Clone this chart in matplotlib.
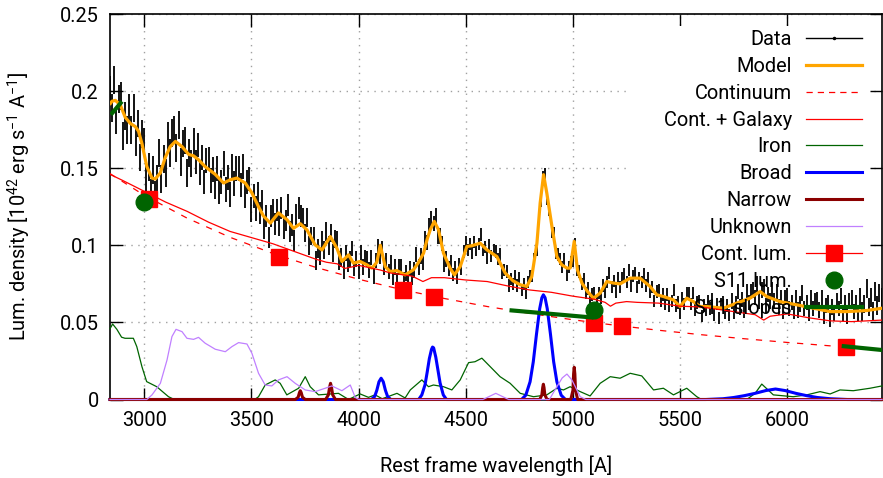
import numpy as np
import matplotlib
matplotlib.use('Agg')
import matplotlib.pyplot as plt
from matplotlib.lines import Line2D
from matplotlib.patches import Rectangle

plt.rcParams['font.family'] = ['Roboto', 'DejaVu Sans']
plt.rcParams['mathtext.default'] = 'regular'
plt.rcParams['font.size'] = 14.4

# ---------------- data ----------------
data_wave = np.arange(2840, 6441, 10)
data_flux = [
    .201, .189, .207, .181, .195, .197, .171, .184, .175, .189,   # 2840
    .175, .189, .167, .179, .157, .172, .167, .144, .151, .134,   # 2940
    .149, .133, .143, .160, .143, .156, .147, .171, .160, .173,   # 3040
    .175, .163, .178, .154, .166, .168, .147, .160, .153, .167,   # 3140
    .154, .165, .147, .157, .141, .155, .156, .142, .149, .138,   # 3240
    .150, .135, .141, .153, .136, .144, .133, .151, .140, .150,   # 3340
    .150, .139, .151, .132, .141, .143, .123, .132, .124, .133,   # 3440
    .121, .129, .111, .119, .105, .119, .123, .114, .123, .113,   # 3540
    .124, .111, .116, .126, .109, .113, .103, .120, .124, .119,   # 3640
    .118, .108, .118, .100, .106, .106, .090, .098, .093, .103,   # 3740
    .097, .109, .100, .108, .095, .104, .103, .090, .092, .084,   # 3840
    .095, .088, .091, .098, .085, .091, .083, .095, .086, .092,   # 3940
    .091, .084, .092, .080, .090, .099, .093, .098, .086, .090,   # 4040
    .083, .089, .079, .086, .077, .086, .086, .078, .082, .077,   # 4140
    .085, .079, .084, .094, .086, .093, .089, .104, .102, .113,   # 4240
    .117, .114, .119, .106, .106, .101, .088, .091, .085, .089,   # 4340
    .081, .086, .079, .088, .085, .096, .102, .097, .101, .095,   # 4440
    .102, .097, .101, .107, .097, .099, .092, .100, .093, .097,   # 4540
    .096, .091, .094, .082, .084, .083, .074, .078, .075, .080,   # 4640
    .074, .079, .071, .075, .069, .076, .080, .080, .091, .097,   # 4740
    .117, .129, .144, .146, .130, .123, .109, .108, .095, .094,   # 4840
    .091, .086, .091, .081, .086, .089, .090, .101, .084, .083,   # 4940
    .075, .078, .069, .072, .064, .068, .069, .064, .069, .066,   # 5040
    .074, .070, .076, .082, .073, .077, .070, .079, .073, .079,   # 5140
    .081, .076, .084, .074, .080, .082, .073, .079, .076, .081,   # 5240
    .074, .079, .070, .073, .064, .070, .071, .064, .068, .062,   # 5340
    .068, .061, .064, .071, .061, .063, .056, .066, .062, .069,   # 5440
    .069, .062, .069, .058, .063, .064, .054, .061, .058, .064,   # 5540
    .059, .065, .055, .062, .053, .062, .063, .056, .061, .055,   # 5640
    .064, .057, .062, .070, .060, .065, .058, .070, .063, .070,   # 5740
    .071, .066, .075, .064, .071, .073, .061, .068, .064, .071,   # 5840
    .064, .070, .060, .066, .057, .066, .067, .059, .063, .057,   # 5940
    .066, .058, .062, .069, .059, .063, .056, .066, .059, .064,   # 6040
    .065, .058, .066, .054, .061, .063, .052, .060, .056, .064,   # 6140
    .059, .067, .056, .063, .054, .064, .066, .057, .063, .056,   # 6240
    .066, .057, .062, .072, .060, .066, .057, .070, .061, .069, .066]  # 6340
# error half-length for each 100 A block of the data
data_err_blocks = [.009, .009, .009, .009, .008, .008, .008, .007, .007, .006,
                   .006, .005, .005, .005, .005, .005, .004, .004, .004, .004,
                   .004, .004, .004, .004, .004, .004, .004, .004, .004, .005,
                   .005, .005, .005, .005, .005, .006]
data_err_counts = [10] * 35 + [11]

model_wave = [2842, 2849, 2865, 2888, 2911, 2935, 2958, 2973, 2989, 3012,
              3036, 3051, 3075, 3098, 3121, 3145, 3176, 3207, 3230, 3253,
              3284, 3331, 3370, 3401, 3432, 3471, 3502, 3533, 3556, 3588,
              3626, 3666, 3696, 3728, 3759, 3797, 3829, 3868, 3899, 3922,
              3953, 3976, 4007, 4039, 4062, 4085, 4101, 4124, 4147, 4179,
              4217, 4256, 4280, 4303, 4320, 4334, 4353, 4373, 4396, 4427,
              4447, 4474, 4505, 4528, 4567, 4598, 4645, 4684, 4720, 4754,
              4785, 4808, 4832, 4847, 4863, 4878, 4902, 4925, 4948, 4972,
              4987, 5006, 5021, 5042, 5068, 5096, 5127, 5158, 5189, 5220,
              5267, 5313, 5360, 5391, 5422, 5469, 5500, 5531, 5562, 5593,
              5624, 5702, 5764, 5826, 5873, 5904, 5966, 6044, 6122, 6200,
              6277, 6371, 6442]
model_flux = [.192, .1934, .194, .191, .183, .179, .177, .174, .166, .151,
              .1436, .143, .147, .157, .164, .1674, .164, .159, .158, .1555,
              .151, .146, .1404, .1425, .1436, .1404, .134, .125, .119, .1144,
              .121, .1166, .111, .114, .110, .1003, .097, .1057, .098, .0895,
              .0938, .0884, .0895, .0873, .0852, .089, .100, .0862, .083, .0836,
              .0808, .0841, .089, .0949, .104, .110, .1155, .110, .0949, .0852,
              .0808, .0862, .0992, .0997, .1014, .0971, .0927, .082, .077, .0744,
              .0733, .0797, .1014, .1274, .1458, .1339, .1122, .0927, .0873, .0852,
              .0852, .1025, .0841, .0755, .070, .0657, .069, .0765, .0755, .075,
              .0787, .0787, .0733, .0679, .0668, .0646, .0603, .0657, .0635, .0603,
              .0603, .0592, .0625, .0657, .070, .0668, .0635, .0614, .0592, .057,
              .057, .0577, .0592]

cont_wave = [2840, 3000, 3200, 3400, 3600, 3800, 4000, 4200, 4400, 4600,
             4800, 5000, 5200, 5400, 5600, 5800, 6000, 6200, 6442]
cont_flux = [.1465, .1324, .1176, .1052, .0947, .0857, .0780, .0713, .0655, .0603,
             .0558, .0517, .0481, .0449, .0420, .0394, .0370, .0348, .0325]

contgal_wave = [2840, 2900, 3000, 3100, 3200, 3300, 3400, 3500, 3600, 3700,
                3800, 3850, 3900, 3935, 3970, 4000, 4100, 4150, 4200, 4250,
                4300, 4340, 4400, 4500, 4600, 4700, 4800, 4900, 5000, 5100,
                5150, 5175, 5200, 5250, 5300, 5400, 5500, 5600, 5700, 5800,
                5850, 5890, 5920, 6000, 6100, 6200, 6300, 6442]
contgal_flux = [.146, .142, .135, .128, .122, .115, .109, .105, .101, .096,
                .091, .089, .088, .085, .086, .087, .084, .082, .081, .080,
                .0765, .079, .079, .0775, .0765, .0735, .071, .0695, .067, .065,
                .063, .0605, .0625, .0635, .063, .0625, .0605, .060, .058, .056,
                .055, .0515, .054, .0555, .053, .051, .0505, .0515]

iron_wave = [2840, 2846, 2852, 2872, 2894, 2910, 2949, 2965, 2989, 3011,
             3058, 3113, 3140, 3515, 3533, 3564, 3611, 3634, 3665, 3720,
             3751, 3774, 3813, 3860, 3906, 3953, 4007, 4046, 4077, 4110,
             4179, 4217, 4241, 4295, 4326, 4349, 4396, 4435, 4474, 4513,
             4543, 4575, 4614, 4660, 4707, 4754, 4816, 4878, 4925, 4956,
             4987, 5034, 5080, 5127, 5174, 5220, 5267, 5321, 5376, 5422,
             5469, 5531, 5578, 5600, 5811, 5850, 5881, 5935, 6028, 6091,
             6153, 6200, 6246, 6308, 6386, 6442]
iron_flux = [.046, .0473, .049, .0455, .0404, .0397, .0397, .0343, .0213, .0116,
             .0083, .0018, 0, 0, .0018, .0094, .0127, .0105, .003, .0073,
             .0148, .0083, .003, .0035, .004, 0, .0036, .0014, .003, .0005,
             .004, .001, .0062, .0127, .0083, .0094, .0083, .0062, .0127, .0239,
             .0245, .0268, .0213, .0148, .0105, .004, .0018, .003, .0073, .0062,
             .0083, .0051, .0023, .0105, .0148, .0138, .017, .0153, .0062, .0073,
             .003, .0073, .0018, 0, 0, .004, .01, .003, .0018, .003,
             .0051, .0036, .0062, .0057, .0073, .0088]

broad_wave = [2840, 4060, 4075, 4085, 4095, 4105, 4115, 4125, 4135, 4150,
              4280, 4295, 4310, 4320, 4330, 4340, 4345, 4350, 4360, 4370,
              4380, 4395, 4410, 4760, 4780, 4800, 4815, 4830, 4845, 4855,
              4862, 4870, 4880, 4895, 4910, 4925, 4945, 4965, 5620, 5700,
              5750, 5800, 5850, 5900, 5945, 5990, 6040, 6090, 6140, 6200,
              6280, 6442]
broad_flux = [0, 0, .002, .006, .0115, .0138, .0115, .006, .002, 0,
              0, .003, .0096, .0178, .0265, .0325, .034, .0335, .0275, .0192,
              .0108, .003, 0, 0, .0028, .0115, .0245, .0425, .059, .066,
              .0679, .066, .059, .0425, .0245, .0115, .0028, 0, 0, .0005,
              .0013, .0025, .004, .0058, .0068, .0058, .004, .0025, .0013, .0005,
              0, 0]

narrow_wave = [2840, 3705, 3718, 3724, 3728, 3732, 3738, 3751, 3846, 3859,
               3865, 3869, 3873, 3879, 3892, 4845, 4855, 4859, 4862, 4865,
               4869, 4879, 4990, 5000, 5003, 5006, 5009, 5012, 5022, 6442]
narrow_flux = [0, 0, .0015, .0045, .0057, .0045, .0015, 0, 0, .003,
               .0083, .0105, .0083, .003, 0, 0, .003, .0078, .0099, .0078,
               .003, 0, 0, .006, .0165, .0209, .0165, .006, 0, 0]

unknown_wave = [2840, 3012, 3036, 3075, 3106, 3129, 3148, 3176, 3199, 3230,
                3253, 3284, 3331, 3378, 3409, 3440, 3479, 3502, 3533, 3564,
                3595, 3626, 3666, 3704, 3751, 3797, 3844, 3875, 3922, 3961,
                3984, 4000, 4580, 4610, 4640, 4670, 4700, 4890, 4925, 4950,
                4972, 4995, 5034, 5060, 6442]
unknown_flux = [0, 0, .003, .0105, .0256, .0408, .0455, .044, .0397, .039,
                .0403, .0365, .0326, .031, .0343, .0369, .036, .030, .017, .0094,
                .0088, .0127, .0148, .0105, .0062, .0051, .0073, .0088, .0057, .0094,
                .0014, 0, 0, .002, .004, .002, 0, 0, .0083, .014,
                .0165, .0127, .0018, 0, 0]

contlum_wave = [3020, 3630, 4209, 4354, 5100, 5228, 6274]
contlum_flux = [.130, .0925, .0707, .0666, .0495, .0477, .0339]

s11_wave = [3000, 5100]
s11_flux = [.1284, .0581]

s11_slope_wave = [[2844, 2896], [4704, 5096], [6254, 6500]]
s11_slope_flux = [[.1847, .1933], [.0579, .0531], [.0347, .0313]]

labels = ['Data', 'Model', 'Continuum', 'Cont. + Galaxy', 'Iron', 'Broad',
          'Narrow', 'Unknown', 'Cont. lum.', 'S11 lum.', 'S11 slopes']
xticks = [3000, 3500, 4000, 4500, 5000, 5500, 6000]
yticks = [0, 0.05, 0.1, 0.15, 0.2, 0.25]
ytick_labels = ['0', '0.05', '0.1', '0.15', '0.2', '0.25']

# ---------------- colours ----------------
c_orange = '#FFA500'
c_red = '#FF0000'
c_dgreen = '#006400'
c_blue = '#0000FF'
c_dred = '#8B0000'
c_purple = '#C080FF'

# ---------------- figure ----------------
fig = plt.figure(figsize=(8.83, 4.78), dpi=100)
W, H = 883, 478
ax = fig.add_axes([110 / W, (H - 399.5) / H, 772 / W, 385.5 / H])

err = np.repeat(data_err_blocks, data_err_counts)
ax.errorbar(data_wave, data_flux, yerr=err, fmt='none', ecolor='black',
            elinewidth=1.3, capsize=0, zorder=2)
ax.plot(model_wave, model_flux, color=c_orange, lw=2.3, zorder=3)
ax.plot(cont_wave, cont_flux, color=c_red, lw=0.9, ls=(0, (5, 6)), zorder=4)
ax.plot(contgal_wave, contgal_flux, color=c_red, lw=0.9, zorder=5)
ax.plot(iron_wave, iron_flux, color=c_dgreen, lw=0.9, zorder=6, clip_on=False)
ax.plot(broad_wave, broad_flux, color=c_blue, lw=2.2, zorder=7, clip_on=False)
ax.plot(narrow_wave, narrow_flux, color=c_dred, lw=2.2, zorder=8, clip_on=False)
ax.plot(unknown_wave, unknown_flux, color=c_purple, lw=0.9, zorder=9, clip_on=False)
ax.plot(contlum_wave, contlum_flux, ls='none', marker='s', ms=12, color=c_red,
        mec=c_red, zorder=10)
ax.plot(s11_wave, s11_flux, ls='none', marker='o', ms=12, color=c_dgreen,
        mec=c_dgreen, zorder=11)
for xs, ys in zip(s11_slope_wave, s11_slope_flux):
    ax.plot(xs, ys, color=c_dgreen, lw=3, zorder=12, solid_capstyle='butt')

ax.set_xlim(2840, 6442)
ax.set_ylim(0, 0.25)
ax.set_xticks(xticks)
ax.set_yticks(yticks)
ax.set_yticklabels(ytick_labels)
ax.tick_params(direction='in', length=9, width=1, top=True, right=True,
               labelsize=14.4, pad=8)
for s in ax.spines.values():
    s.set_linewidth(1.2)

ax.set_axisbelow(True)
ax.grid(True, color='#A0A0A0', linestyle=(0, (1, 4)), linewidth=1.0)
# key area hides the grid (as in the original)
ax.add_patch(Rectangle((0.6736, 0.21), 0.9845 - 0.6736, 0.969 - 0.21,
                       transform=ax.transAxes, facecolor='white',
                       edgecolor='none', zorder=1))

ax.set_xlabel('Rest frame wavelength [A]', fontsize=14.4)
ax.set_ylabel('Lum. density [10$^{42}$ erg s$^{-1}$ A$^{-1}$]', fontsize=14.4)
ax.xaxis.set_label_coords(0.5, -0.145)
ax.yaxis.set_label_coords(-0.100, 0.5)

handles = [
    Line2D([], [], color='black', lw=1, marker='.', ms=3),
    Line2D([], [], color=c_orange, lw=2.3),
    Line2D([], [], color=c_red, lw=0.9, ls=(0, (5, 4))),
    Line2D([], [], color=c_red, lw=0.9),
    Line2D([], [], color=c_dgreen, lw=0.9),
    Line2D([], [], color=c_blue, lw=2.2),
    Line2D([], [], color=c_dred, lw=2.2),
    Line2D([], [], color=c_purple, lw=0.9),
    Line2D([], [], color=c_red, lw=0.9, marker='s', ms=12),
    Line2D([], [], color=c_dgreen, lw=0, marker='o', ms=12),
    Line2D([], [], color=c_dgreen, lw=3),
]
leg = ax.legend(handles, labels, loc='upper right',
                bbox_to_anchor=((862 - 110) / 772, (399.5 - 29.8) / 385.5),
                frameon=False, markerfirst=False, handlelength=2.8,
                handletextpad=0.7, labelspacing=0.395, borderpad=0,
                borderaxespad=0, fontsize=14.4)
leg.set_zorder(20)

fig.savefig('out.png', dpi=100)
